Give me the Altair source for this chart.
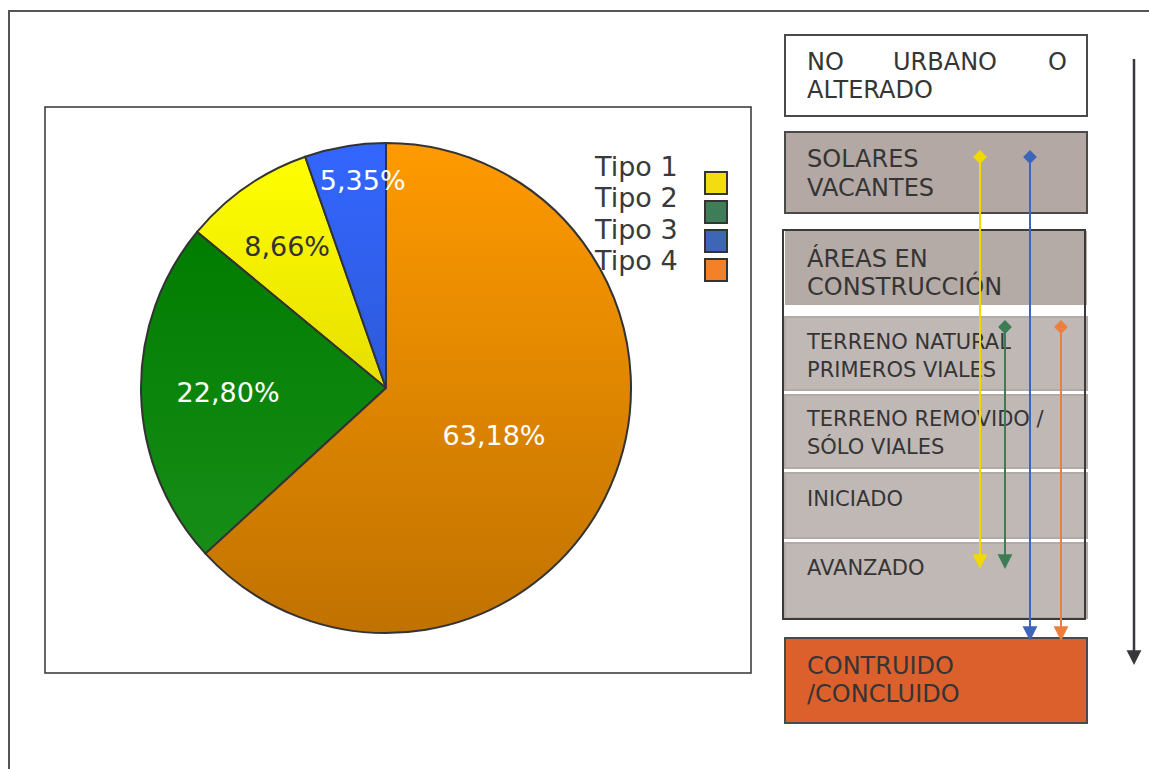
import altair as alt
import pandas as pd

W, H = 1149, 769

# ---------------- data ----------------
categories = ["Tipo 1", "Tipo 2", "Tipo 3", "Tipo 4"]
shares = [8.66, 22.80, 5.35, 63.18]
clockwise_rank = [3, 2, 4, 1]          # order of the slices, clockwise from 12 o'clock
share_labels = ["8,66%", "22,80%", "5,35%", "63,18%"]

stage_lines = [
    ["NO", "URBANO", "O"], ["ALTERADO"],
    ["SOLARES"], ["VACANTES"],
    ["ÁREAS EN"], ["CONSTRUCCIÓN"],
    ["TERRENO NATURAL"], ["PRIMEROS VIALES"],
    ["TERRENO REMOVIDO /"], ["SÓLO VIALES"],
    ["INICIADO"],
    ["AVANZADO"],
    ["CONTRUIDO"], ["/CONCLUIDO"],
]
arrow_types = ["Tipo 1", "Tipo 2", "Tipo 3", "Tipo 4"]
arrow_from = ["SOLARES VACANTES", "TERRENO NATURAL", "SOLARES VACANTES", "TERRENO NATURAL"]
arrow_to = ["AVANZADO", "AVANZADO", "CONTRUIDO /CONCLUIDO", "CONTRUIDO /CONCLUIDO"]

# ---------------- styles / layout ----------------
FONT = "DejaVu Sans"
legend_colors = {"Tipo 1": "#F3DC10", "Tipo 2": "#3E7D58", "Tipo 3": "#3D67B5", "Tipo 4": "#F2812A"}
slice_grad = {
    "Tipo 4": ("#FF9A00", "#C07200"),
    "Tipo 2": ("#007C00", "#178D17"),
    "Tipo 1": ("#FFFF00", "#E6DE00"),
    "Tipo 3": ("#3366FF", "#2D5ADA"),
}
label_style = {  # radius, dx, colour
    "Tipo 1": (173, 0, "#333333"),
    "Tipo 2": (158, 0, "#FFFFFF"),
    "Tipo 3": (211, 12, "#FFFFFF"),
    "Tipo 4": (118, 0, "#FFFFFF"),
}
PIE_CX, PIE_CY, PIE_R = 386, 388, 245
arrow_colors = {"Tipo 1": "#F0D800", "Tipo 2": "#3C7D55", "Tipo 3": "#3D66B8", "Tipo 4": "#EC7E3E"}
arrow_x = {"Tipo 1": 980, "Tipo 2": 1005, "Tipo 3": 1030, "Tipo 4": 1061}
stage_tail_y = {"SOLARES VACANTES": 157, "TERRENO NATURAL": 327}
stage_tip_y = {"AVANZADO": 569, "CONTRUIDO /CONCLUIDO": 641}

xs = alt.Scale(domain=[0, W], nice=False, zero=False)
ys = alt.Scale(domain=[0, H], nice=False, zero=False, reverse=True)


def X(f):
    return alt.X(f, type="quantitative", scale=xs, axis=None)


def Y(f):
    return alt.Y(f, type="quantitative", scale=ys, axis=None)


# ---------------- frames ----------------
frames = pd.DataFrame({
    "x0": [9, 45], "y0": [11, 107], "x1": [1170, 751], "y1": [790, 673],
    "stroke": ["#555555", "#333333"], "sw": [2, 1.5],
})
frame_layer = alt.Chart(frames).mark_rect(fillOpacity=0).encode(
    x=X("x0"), x2="x1", y=Y("y0"), y2="y1",
    stroke=alt.Stroke("stroke:N", scale=None),
    strokeWidth=alt.StrokeWidth("sw:Q", scale=None),
)

# ---------------- pie ----------------
pie_df = pd.DataFrame({"category": categories, "share": shares,
                       "rank": clockwise_rank, "label": share_labels})
total = sum(shares)
tscale = alt.Scale(domain=[0, total])
pie_base = alt.Chart(pie_df).transform_stack(
    stack="share", as_=["s0", "s1"], groupby=[], sort=[alt.SortField("rank", order="ascending")]
).transform_calculate(mid="(datum.s0 + datum.s1) / 2")

pie_layers = []
for cat in categories:
    top, bottom = slice_grad[cat]
    grad = alt.LinearGradient(
        gradient="linear",
        stops=[alt.GradientStop(color=top, offset=0), alt.GradientStop(color=bottom, offset=1)],
        x1=0, x2=0, y1=0, y2=1,
    )
    pie_layers.append(
        pie_base.transform_filter(alt.datum.category == cat).mark_arc(
            outerRadius=PIE_R, fill=grad, stroke="#333333", strokeWidth=2
        ).encode(
            theta=alt.Theta("s0:Q", stack=False, scale=tscale), theta2="s1:Q",
            x=alt.value(PIE_CX), y=alt.value(PIE_CY),
        )
    )
label_layers = []
for cat in categories:
    r, dx, col = label_style[cat]
    label_layers.append(
        pie_base.transform_filter(alt.datum.category == cat).mark_text(
            radius=r, dx=dx, dy=2, font=FONT, fontSize=27, color=col,
            align="center", baseline="middle"
        ).encode(
            theta=alt.Theta("mid:Q", stack=False, scale=tscale),
            x=alt.value(PIE_CX), y=alt.value(PIE_CY), text="label:N",
        )
    )

# ---------------- legend ----------------
leg_df = pd.DataFrame({"category": categories,
                       "color": [legend_colors[c] for c in categories],
                       "idx": list(range(len(categories)))})
leg_base = alt.Chart(leg_df).transform_calculate(
    ty="168 + 31.3 * datum.idx", sy="183 + 29 * datum.idx", tx="595", sx="716"
)
leg_sq = leg_base.mark_square(size=22 * 22, filled=True, stroke="#333333", strokeWidth=2, opacity=1).encode(
    x=X("sx:Q"), y=Y("sy:Q"), fill=alt.Fill("color:N", scale=None)
)
leg_txt = leg_base.mark_text(font=FONT, fontSize=27, color="#3a3a3a", align="left", baseline="middle").encode(
    x=X("tx:Q"), y=Y("ty:Q"), text="category:N"
)

# ---------------- stage boxes ----------------
boxes = pd.DataFrame([
    # x0, y0, x1, y1, fill, stroke, sw
    (785, 35, 1087, 116, "#FFFFFF", "#4A4A4A", 2),
    (785, 132, 1087, 213, "#B3A8A3", "#4A4A4A", 2),
    (785, 231, 1087, 305, "#B4AAA6", "#B4AAA6", 0),
    (785, 317, 1087, 390, "#C0B8B5", "#B3A9A6", 2),
    (785, 395, 1087, 468, "#C0B8B5", "#B3A9A6", 2),
    (785, 473, 1087, 538, "#C0B8B5", "#B3A9A6", 2),
    (785, 543, 1087, 618, "#C0B8B5", "#B3A9A6", 2),
    (785, 638, 1087, 723, "#DC602C", "#4A4A4A", 2),
], columns=["x0", "y0", "x1", "y1", "fill", "stroke", "sw"])
box_layer = alt.Chart(boxes).mark_rect().encode(
    x=X("x0"), x2="x1", y=Y("y0"), y2="y1",
    fill=alt.Fill("fill:N", scale=None),
    stroke=alt.Stroke("stroke:N", scale=None),
    strokeWidth=alt.StrokeWidth("sw:Q", scale=None),
)
container = pd.DataFrame({"x0": [783], "y0": [230], "x1": [1085], "y1": [619]})
container_layer = alt.Chart(container).mark_rect(fillOpacity=0, stroke="#3A3A3A", strokeWidth=2).encode(
    x=X("x0"), x2="x1", y=Y("y0"), y2="y1"
)

line_pos = [  # (x positions of words, y centre, font size)
    ([807, 893, 1048], 62.5, 24), ([807], 91, 24),
    ([807], 160, 24), ([807], 189, 24),
    ([807], 260, 24), ([807], 288, 24),
    ([807], 342.5, 21), ([807], 370.5, 21),
    ([807], 419.5, 21), ([807], 447.5, 21),
    ([807], 499.5, 21),
    ([807], 569, 21),
    ([807], 666.5, 24), ([807], 694.5, 24),
]
rows = []
for words, (xs_, y, fs) in zip(stage_lines, line_pos):
    for w, x in zip(words, xs_):
        rows.append({"text": w, "x": x, "y": y, "fs": fs})
stage_txt = alt.Chart(pd.DataFrame(rows)).mark_text(
    font=FONT, color="#353535", align="left", baseline="middle"
).encode(x=X("x"), y=Y("y"), text="text:N", size=alt.Size("fs:Q", scale=None))

# ---------------- arrows ----------------
arr = pd.DataFrame({
    "type": arrow_types + ["flujo"],
    "x": [arrow_x[t] for t in arrow_types] + [1134],
    "y0": [stage_tail_y[f] for f in arrow_from] + [59],
    "tip": [stage_tip_y[t] for t in arrow_to] + [665],
    "color": [arrow_colors[t] for t in arrow_types] + ["#38383C"],
    "sw": [2, 2, 2, 2, 2.5],
    "tail": [True, True, True, True, False],
})
arr_base = alt.Chart(arr).transform_calculate(yline="datum.tip - 8")
arr_rule = arr_base.mark_rule().encode(
    x=X("x"), y=Y("y0"), y2="yline:Q",
    color=alt.Color("color:N", scale=None),
    strokeWidth=alt.StrokeWidth("sw:Q", scale=None),
)
arr_head = arr_base.mark_point(shape="M-1,-2L1,-2L0,0Z", size=220, filled=True, opacity=1).encode(
    x=X("x"), y=Y("tip"), color=alt.Color("color:N", scale=None)
)
arr_tail = arr_base.transform_filter(alt.datum.tail).mark_point(
    shape="diamond", size=190, filled=True, opacity=1
).encode(x=X("x"), y=Y("y0"), color=alt.Color("color:N", scale=None))

chart = alt.layer(
    frame_layer, *pie_layers, *label_layers, leg_sq, leg_txt,
    box_layer, container_layer, stage_txt, arr_rule, arr_head, arr_tail,
).properties(
    width=W, height=H, padding=0, autosize="none", background="white"
).configure_view(stroke=None)

chart.save("out.html", embed_options={"renderer": "svg", "actions": False})
